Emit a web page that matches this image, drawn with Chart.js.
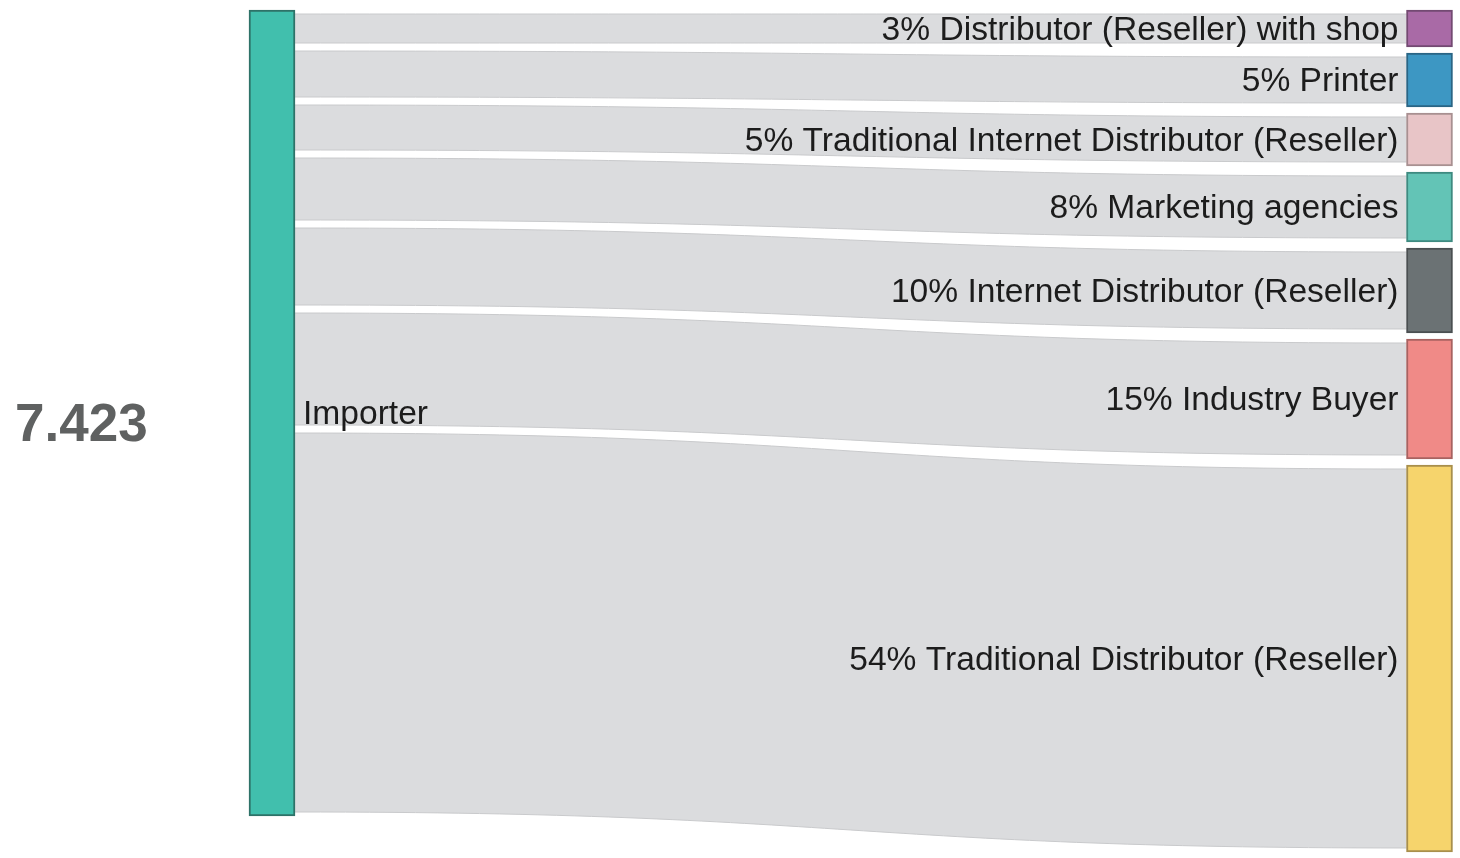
<!DOCTYPE html>
<html>
<head>
<meta charset="utf-8">
<title>Importer flows</title>
<script src="https://cdn.jsdelivr.net/npm/chart.js@4.4.1/dist/chart.umd.min.js"></script>
<style>
  html, body { margin: 0; padding: 0; background: #fff; }
  #wrap { position: relative; width: 1460px; height: 858px; }
</style>
</head>
<body>
<div id="wrap"><canvas id="sankey"></canvas></div>
<script>
const totalLabel = '7.423';
const sourceLabel = 'Importer';
const targetLabels = [
  '3% Distributor (Reseller) with shop',
  '5% Printer',
  '5% Traditional Internet Distributor (Reseller)',
  '8% Marketing agencies',
  '10% Internet Distributor (Reseller)',
  '15% Industry Buyer',
  '54% Traditional Distributor (Reseller)'
];
// band thickness as drawn in the picture (same unit for every flow)
const flowValues = [37, 54, 53, 70, 85, 120, 387];

const sourceColor = '#41bfad';
const sourceBorder = '#2e7268';
const targetColors = ['#a96aa6', '#3d97c3', '#e8c5c7', '#63c4b6', '#6b7274', '#f08a87', '#f6d46c'];
const targetBorders = ['#734a72', '#2a6585', '#a89091', '#3e8a80', '#4a4f51', '#a86260', '#a88f4c'];

const NODE_GAP = 6;     // space between target nodes, in value units
const BAND_INSET = 4;   // white seam between bands, px

const total = flowValues.reduce((a, b) => a + b, 0);

// source side is stacked tight, target side gets a gap between nodes
const sourceRanges = [];
const targetRanges = [];
let sPos = 0, tPos = 0;
flowValues.forEach(v => {
  sourceRanges.push([sPos, sPos + v]);
  targetRanges.push([tPos, tPos + v]);
  sPos += v;
  tPos += v + NODE_GAP;
});
const axisMax = tPos - NODE_GAP;

const datasets = [{
  label: sourceLabel,
  data: [[0, total], null],
  backgroundColor: sourceColor,
  borderColor: sourceBorder
}].concat(targetLabels.map((label, i) => ({
  label,
  data: [null, targetRanges[i]],
  backgroundColor: targetColors[i],
  borderColor: targetBorders[i]
})));

const flowPlugin = {
  id: 'flows',
  beforeDatasetsDraw(chart) {
    const { ctx, scales: { y } } = chart;
    const src = chart.getDatasetMeta(0).data[0];
    const x0 = src.x + src.width / 2;

    ctx.save();
    flowValues.forEach((v, i) => {
      const tgt = chart.getDatasetMeta(i + 1).data[1];
      const x1 = tgt.x - tgt.width / 2;
      const mx = (x0 + x1) / 2;
      const a0 = y.getPixelForValue(sourceRanges[i][0]) + BAND_INSET;
      const a1 = y.getPixelForValue(sourceRanges[i][1]) - BAND_INSET;
      const b0 = y.getPixelForValue(targetRanges[i][0]) + BAND_INSET;
      const b1 = y.getPixelForValue(targetRanges[i][1]) - BAND_INSET;

      ctx.beginPath();
      ctx.moveTo(x0, a0);
      ctx.bezierCurveTo(mx, a0, mx, b0, x1, b0);
      ctx.lineTo(x1, b1);
      ctx.bezierCurveTo(mx, b1, mx, a1, x0, a1);
      ctx.closePath();
      ctx.fillStyle = '#dbdcde';
      ctx.fill();

      // faint edges on top and bottom of each band
      ctx.strokeStyle = '#c9cacc';
      ctx.lineWidth = 1;
      ctx.beginPath();
      ctx.moveTo(x0, a0);
      ctx.bezierCurveTo(mx, a0, mx, b0, x1, b0);
      ctx.moveTo(x0, a1);
      ctx.bezierCurveTo(mx, a1, mx, b1, x1, b1);
      ctx.stroke();
    });
    ctx.restore();
  }
};

const labelPlugin = {
  id: 'nodeLabels',
  afterDatasetsDraw(chart) {
    const { ctx } = chart;
    const src = chart.getDatasetMeta(0).data[0];
    const srcMid = (src.y + src.base) / 2;

    ctx.save();
    ctx.font = '33.6px "Liberation Sans", Arial, sans-serif';
    ctx.fillStyle = '#1c1c1c';
    ctx.textBaseline = 'middle';

    ctx.textAlign = 'right';
    targetLabels.forEach((label, i) => {
      const bar = chart.getDatasetMeta(i + 1).data[1];
      ctx.fillText(label, bar.x - bar.width / 2 - 8, (bar.y + bar.base) / 2 + 2);
    });

    ctx.textAlign = 'left';
    ctx.fillText(sourceLabel, src.x + src.width / 2 + 8, srcMid + 2);

    ctx.font = 'bold 53px "Liberation Sans", Arial, sans-serif';
    ctx.fillStyle = '#5f6161';
    ctx.textBaseline = 'alphabetic';
    ctx.fillText(totalLabel, 15, srcMid + 28);
    ctx.restore();
  }
};

new Chart(document.getElementById('sankey'), {
  type: 'bar',
  data: {
    labels: [sourceLabel, 'targets'],
    datasets
  },
  options: {
    responsive: true,
    maintainAspectRatio: false,
    animation: false,
    layout: {
      padding: { left: 272, right: 30.5, top: 10, bottom: 6 }
    },
    datasets: {
      bar: {
        grouped: false,
        barThickness: 46,
        borderWidth: 2,
        borderSkipped: false,
        clip: false
      }
    },
    plugins: {
      legend: { display: false },
      tooltip: { enabled: false },
      title: { display: false }
    },
    scales: {
      x: { display: false, offset: false },
      y: { display: false, reverse: true, min: 0, max: axisMax }
    }
  },
  plugins: [flowPlugin, labelPlugin]
});
</script>
</body>
</html>
